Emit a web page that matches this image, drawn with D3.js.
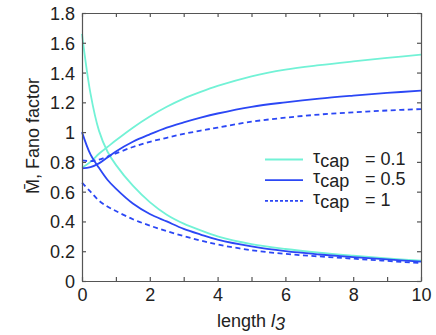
<!DOCTYPE html>
<html><head><meta charset="utf-8">
<script src="https://cdn.jsdelivr.net/npm/d3@7"></script>
<style>body{margin:0;background:#fff}svg{display:block}text{font-family:"Liberation Sans",Arial,sans-serif;fill:#222}</style>
</head><body>
<svg id="c" width="436" height="335"></svg>
<script>
const lengths = [0,0.25,0.5,0.75,1,1.5,2,2.5,3,3.5,4,5,6,7,8,9,10];
const mbarTau01 = [0.76,0.80,0.855,0.90,0.945,1.03,1.105,1.17,1.225,1.27,1.31,1.375,1.42,1.45,1.475,1.498,1.52];
const fanoTau01 = [1.66,1.26,1.01,0.87,0.78,0.64,0.53,0.445,0.385,0.34,0.30,0.248,0.215,0.19,0.17,0.152,0.137];
const mbarTau05 = [0.757,0.765,0.79,0.83,0.87,0.935,0.985,1.03,1.065,1.097,1.125,1.17,1.20,1.225,1.245,1.263,1.278];
const fanoTau05 = [1.0,0.85,0.76,0.68,0.62,0.52,0.45,0.40,0.35,0.312,0.278,0.232,0.20,0.178,0.16,0.145,0.13];
const mbarTau1 = [0.81,0.805,0.815,0.835,0.857,0.90,0.935,0.962,0.988,1.01,1.03,1.07,1.097,1.118,1.133,1.145,1.155];
const fanoTau1 = [0.66,0.60,0.54,0.50,0.47,0.415,0.372,0.335,0.302,0.272,0.245,0.207,0.182,0.165,0.15,0.135,0.12];
const legendLabels = ["0.1","0.5","1"];
const xTicks = [0,1,2,3,4,5,6,7,8,9,10];
const yTicks = [0,0.2,0.4,0.6,0.8,1,1.2,1.4,1.6,1.8];

const teal = "#72f2d6", blue = "#2b47f5";
const svg = d3.select("#c");
const L=82,R=421,T=13,B=281;
const x = d3.scaleLinear().domain([0,10]).range([L,R]);
const y = d3.scaleLinear().domain([0,1.8]).range([B,T]);

const series = [
  {v:mbarTau01,c:teal,d:null},{v:fanoTau01,c:teal,d:null},
  {v:mbarTau05,c:blue,d:null},{v:fanoTau05,c:blue,d:null},
  {v:mbarTau1,c:blue,d:"5,3.5"},{v:fanoTau1,c:blue,d:"5,3.5"}
];
const line = d3.line().x((d,i)=>x(lengths[i])).y(d=>y(d)).curve(d3.curveCatmullRom.alpha(0.5));
svg.append("g").selectAll("path").data(series).join("path")
  .attr("d",s=>line(s.v)).attr("fill","none").attr("stroke",s=>s.c)
  .attr("stroke-width",1.8).attr("stroke-dasharray",s=>s.d);

// box + ticks
const axCol="#555";
const FS=18;
const gb = svg.append("g").attr("transform",`translate(0,${B})`).call(d3.axisBottom(x).tickValues(xTicks).tickSizeInner(-4).tickSizeOuter(0).tickPadding(7).tickFormat(d=>d%2===0?d:""));
const gt = svg.append("g").attr("transform",`translate(0,${T})`).call(d3.axisTop(x).tickValues(xTicks).tickSizeInner(-4).tickSizeOuter(0).tickFormat(""));
const gl = svg.append("g").attr("transform",`translate(${L},0)`).call(d3.axisLeft(y).tickValues(yTicks).tickSizeInner(-4).tickSizeOuter(0).tickPadding(7).tickFormat(d=>d3.format("")(+d.toFixed(1))));
const gr = svg.append("g").attr("transform",`translate(${R},0)`).call(d3.axisRight(y).tickValues(yTicks).tickSizeInner(-4).tickSizeOuter(0).tickFormat(""));
[gb,gt,gl,gr].forEach(g=>{g.selectAll("path,line").attr("stroke",axCol).attr("stroke-width",1.2);g.selectAll("text").style("font-size",FS+"px").attr("fill","#222").attr("font-family",'"Liberation Sans",Arial,sans-serif');});
gl.selectAll("text").attr("dy","0.36em");

// axis labels
const xl = svg.append("text").attr("x",251).attr("y",327).attr("text-anchor","middle").style("font-size",FS+"px");
xl.append("tspan").text("length ");
xl.append("tspan").attr("font-style","italic").text("l");
xl.append("tspan").attr("font-style","italic").attr("dy",3).text("3");

svg.append("text").attr("transform","translate(39,136) rotate(-90)").attr("text-anchor","middle")
  .style("font-size",FS+"px").text("M\u0304, Fano factor");

// legend
const lg = svg.append("g");
const legItems = [{c:teal,d:null},{c:blue,d:null},{c:blue,d:"3,2"}];
legItems.forEach((it,i)=>{
  const yy = 159.5 + i*20.7;
  lg.append("line").attr("x1",265).attr("x2",303).attr("y1",yy).attr("y2",yy)
    .attr("stroke",it.c).attr("stroke-width",1.8).attr("stroke-dasharray",it.d);
  const t = lg.append("text").attr("x",313).attr("y",yy+3).style("font-size",FS+"px");
  t.append("tspan").text("\u03c4");
  t.append("tspan").attr("dy",4).text("cap");
  lg.append("text").attr("x",365).attr("y",yy+5).style("font-size",FS+"px").text("= "+legendLabels[i]);
});
</script>
</body></html>
